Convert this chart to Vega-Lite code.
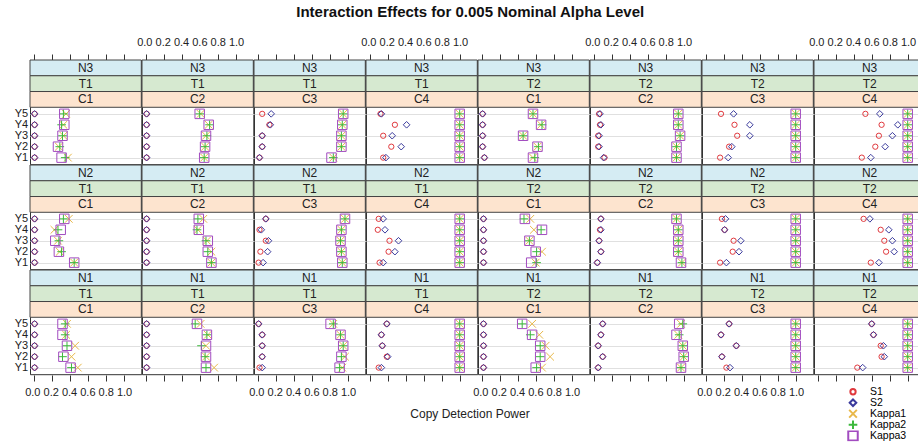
{
  "$schema": "https://vega.github.io/schema/vega-lite/v6.json",
  "padding": {"left": 14, "top": 4, "right": 0, "bottom": 0},
  "title": {"text": "Interaction Effects for 0.005 Nominal Alpha Level", "fontSize": 15, "font": "Liberation Sans", "fontWeight": "bold", "color": "#111", "anchor": "middle", "offset": 17},
  "data": {"values": [
    {"N":"N3","T":"T1","C":"C1","Y":5,"S1":0.01,"S2":0.01,"Kappa1":0.36,"Kappa2":0.33,"Kappa3":0.34},
    {"N":"N3","T":"T1","C":"C1","Y":4,"S1":0.01,"S2":0.01,"Kappa1":0.33,"Kappa2":0.31,"Kappa3":0.34},
    {"N":"N3","T":"T1","C":"C1","Y":3,"S1":0.01,"S2":0.01,"Kappa1":0.33,"Kappa2":0.32,"Kappa3":0.32},
    {"N":"N3","T":"T1","C":"C1","Y":2,"S1":0.01,"S2":0.01,"Kappa1":0.28,"Kappa2":0.29,"Kappa3":0.27},
    {"N":"N3","T":"T1","C":"C1","Y":1,"S1":0.01,"S2":0.01,"Kappa1":0.38,"Kappa2":0.35,"Kappa3":0.31},
    {"N":"N3","T":"T1","C":"C2","Y":5,"S1":0.01,"S2":0.01,"Kappa1":0.61,"Kappa2":0.60,"Kappa3":0.60},
    {"N":"N3","T":"T1","C":"C2","Y":4,"S1":0.01,"S2":0.01,"Kappa1":0.70,"Kappa2":0.71,"Kappa3":0.70},
    {"N":"N3","T":"T1","C":"C2","Y":3,"S1":0.01,"S2":0.01,"Kappa1":0.67,"Kappa2":0.68,"Kappa3":0.67},
    {"N":"N3","T":"T1","C":"C2","Y":2,"S1":0.01,"S2":0.01,"Kappa1":0.66,"Kappa2":0.66,"Kappa3":0.66},
    {"N":"N3","T":"T1","C":"C2","Y":1,"S1":0.01,"S2":0.01,"Kappa1":0.65,"Kappa2":0.65,"Kappa3":0.65},
    {"N":"N3","T":"T1","C":"C3","Y":5,"S1":0.05,"S2":0.15,"Kappa1":0.95,"Kappa2":0.95,"Kappa3":0.95},
    {"N":"N3","T":"T1","C":"C3","Y":4,"S1":0.13,"S2":0.14,"Kappa1":0.94,"Kappa2":0.94,"Kappa3":0.94},
    {"N":"N3","T":"T1","C":"C3","Y":3,"S1":0.05,"S2":0.05,"Kappa1":0.93,"Kappa2":0.93,"Kappa3":0.93},
    {"N":"N3","T":"T1","C":"C3","Y":2,"S1":0.05,"S2":0.05,"Kappa1":0.93,"Kappa2":0.93,"Kappa3":0.93},
    {"N":"N3","T":"T1","C":"C3","Y":1,"S1":0.02,"S2":0.02,"Kappa1":0.84,"Kappa2":0.84,"Kappa3":0.82},
    {"N":"N3","T":"T1","C":"C4","Y":5,"S1":0.12,"S2":0.13,"Kappa1":1,"Kappa2":1,"Kappa3":1},
    {"N":"N3","T":"T1","C":"C4","Y":4,"S1":0.28,"S2":0.41,"Kappa1":1,"Kappa2":1,"Kappa3":1},
    {"N":"N3","T":"T1","C":"C4","Y":3,"S1":0.15,"S2":0.25,"Kappa1":1,"Kappa2":1,"Kappa3":1},
    {"N":"N3","T":"T1","C":"C4","Y":2,"S1":0.24,"S2":0.35,"Kappa1":1,"Kappa2":1,"Kappa3":1},
    {"N":"N3","T":"T1","C":"C4","Y":1,"S1":0.15,"S2":0.18,"Kappa1":1,"Kappa2":1,"Kappa3":1},
    {"N":"N3","T":"T2","C":"C1","Y":5,"S1":0.01,"S2":0.01,"Kappa1":0.57,"Kappa2":0.57,"Kappa3":0.57},
    {"N":"N3","T":"T2","C":"C1","Y":4,"S1":0.01,"S2":0.01,"Kappa1":0.66,"Kappa2":0.67,"Kappa3":0.66},
    {"N":"N3","T":"T2","C":"C1","Y":3,"S1":0.01,"S2":0.01,"Kappa1":0.46,"Kappa2":0.46,"Kappa3":0.46},
    {"N":"N3","T":"T2","C":"C1","Y":2,"S1":0.01,"S2":0.01,"Kappa1":0.62,"Kappa2":0.63,"Kappa3":0.62},
    {"N":"N3","T":"T2","C":"C1","Y":1,"S1":0.03,"S2":0.03,"Kappa1":0.57,"Kappa2":0.59,"Kappa3":0.57},
    {"N":"N3","T":"T2","C":"C2","Y":5,"S1":0.06,"S2":0.07,"Kappa1":0.94,"Kappa2":0.94,"Kappa3":0.94},
    {"N":"N3","T":"T2","C":"C2","Y":4,"S1":0.07,"S2":0.08,"Kappa1":0.94,"Kappa2":0.94,"Kappa3":0.94},
    {"N":"N3","T":"T2","C":"C2","Y":3,"S1":0.05,"S2":0.06,"Kappa1":0.96,"Kappa2":0.96,"Kappa3":0.96},
    {"N":"N3","T":"T2","C":"C2","Y":2,"S1":0.05,"S2":0.06,"Kappa1":0.92,"Kappa2":0.92,"Kappa3":0.92},
    {"N":"N3","T":"T2","C":"C2","Y":1,"S1":0.12,"S2":0.11,"Kappa1":0.92,"Kappa2":0.92,"Kappa3":0.92},
    {"N":"N3","T":"T2","C":"C3","Y":5,"S1":0.17,"S2":0.31,"Kappa1":1,"Kappa2":1,"Kappa3":1},
    {"N":"N3","T":"T2","C":"C3","Y":4,"S1":0.32,"S2":0.49,"Kappa1":1,"Kappa2":1,"Kappa3":1},
    {"N":"N3","T":"T2","C":"C3","Y":3,"S1":0.35,"S2":0.49,"Kappa1":1,"Kappa2":1,"Kappa3":1},
    {"N":"N3","T":"T2","C":"C3","Y":2,"S1":0.26,"S2":0.29,"Kappa1":1,"Kappa2":1,"Kappa3":1},
    {"N":"N3","T":"T2","C":"C3","Y":1,"S1":0.16,"S2":0.25,"Kappa1":1,"Kappa2":1,"Kappa3":1},
    {"N":"N3","T":"T2","C":"C4","Y":5,"S1":0.53,"S2":0.69,"Kappa1":1,"Kappa2":1,"Kappa3":1},
    {"N":"N3","T":"T2","C":"C4","Y":4,"S1":0.71,"S2":0.89,"Kappa1":1,"Kappa2":1,"Kappa3":1},
    {"N":"N3","T":"T2","C":"C4","Y":3,"S1":0.68,"S2":0.83,"Kappa1":1,"Kappa2":1,"Kappa3":1},
    {"N":"N3","T":"T2","C":"C4","Y":2,"S1":0.64,"S2":0.75,"Kappa1":1,"Kappa2":1,"Kappa3":1},
    {"N":"N3","T":"T2","C":"C4","Y":1,"S1":0.49,"S2":0.59,"Kappa1":1,"Kappa2":1,"Kappa3":1},
    {"N":"N2","T":"T1","C":"C1","Y":5,"S1":0.01,"S2":0.01,"Kappa1":0.39,"Kappa2":0.33,"Kappa3":0.34},
    {"N":"N2","T":"T1","C":"C1","Y":4,"S1":0.01,"S2":0.01,"Kappa1":0.23,"Kappa2":0.27,"Kappa3":0.30},
    {"N":"N2","T":"T1","C":"C1","Y":3,"S1":0.01,"S2":0.01,"Kappa1":0.27,"Kappa2":0.28,"Kappa3":0.24},
    {"N":"N2","T":"T1","C":"C1","Y":2,"S1":0.01,"S2":0.01,"Kappa1":0.29,"Kappa2":0.31,"Kappa3":0.28},
    {"N":"N2","T":"T1","C":"C1","Y":1,"S1":0.01,"S2":0.01,"Kappa1":0.45,"Kappa2":0.45,"Kappa3":0.45},
    {"N":"N2","T":"T1","C":"C2","Y":5,"S1":0.01,"S2":0.01,"Kappa1":0.64,"Kappa2":0.58,"Kappa3":0.59},
    {"N":"N2","T":"T1","C":"C2","Y":4,"S1":0.01,"S2":0.01,"Kappa1":0.58,"Kappa2":0.57,"Kappa3":0.59},
    {"N":"N2","T":"T1","C":"C2","Y":3,"S1":0.01,"S2":0.01,"Kappa1":0.68,"Kappa2":0.67,"Kappa3":0.69},
    {"N":"N2","T":"T1","C":"C2","Y":2,"S1":0.01,"S2":0.01,"Kappa1":0.73,"Kappa2":0.69,"Kappa3":0.69},
    {"N":"N2","T":"T1","C":"C2","Y":1,"S1":0.01,"S2":0.01,"Kappa1":0.73,"Kappa2":0.73,"Kappa3":0.73},
    {"N":"N2","T":"T1","C":"C3","Y":5,"S1":0.09,"S2":0.09,"Kappa1":0.97,"Kappa2":0.97,"Kappa3":0.97},
    {"N":"N2","T":"T1","C":"C3","Y":4,"S1":0.02,"S2":0.04,"Kappa1":0.93,"Kappa2":0.93,"Kappa3":0.93},
    {"N":"N2","T":"T1","C":"C3","Y":3,"S1":0.09,"S2":0.12,"Kappa1":0.92,"Kappa2":0.92,"Kappa3":0.92},
    {"N":"N2","T":"T1","C":"C3","Y":2,"S1":0.03,"S2":0.11,"Kappa1":0.93,"Kappa2":0.93,"Kappa3":0.93},
    {"N":"N2","T":"T1","C":"C3","Y":1,"S1":0.01,"S2":0.06,"Kappa1":0.94,"Kappa2":0.94,"Kappa3":0.94},
    {"N":"N2","T":"T1","C":"C4","Y":5,"S1":0.10,"S2":0.15,"Kappa1":1,"Kappa2":1,"Kappa3":1},
    {"N":"N2","T":"T1","C":"C4","Y":4,"S1":0.09,"S2":0.17,"Kappa1":1,"Kappa2":1,"Kappa3":1},
    {"N":"N2","T":"T1","C":"C4","Y":3,"S1":0.22,"S2":0.32,"Kappa1":1,"Kappa2":1,"Kappa3":1},
    {"N":"N2","T":"T1","C":"C4","Y":2,"S1":0.21,"S2":0.28,"Kappa1":1,"Kappa2":1,"Kappa3":1},
    {"N":"N2","T":"T1","C":"C4","Y":1,"S1":0.11,"S2":0.15,"Kappa1":1,"Kappa2":1,"Kappa3":1},
    {"N":"N2","T":"T2","C":"C1","Y":5,"S1":0.02,"S2":0.02,"Kappa1":0.54,"Kappa2":0.47,"Kappa3":0.48},
    {"N":"N2","T":"T2","C":"C1","Y":4,"S1":0.02,"S2":0.02,"Kappa1":0.58,"Kappa2":0.66,"Kappa3":0.67},
    {"N":"N2","T":"T2","C":"C1","Y":3,"S1":0.02,"S2":0.02,"Kappa1":0.53,"Kappa2":0.53,"Kappa3":0.53},
    {"N":"N2","T":"T2","C":"C1","Y":2,"S1":0.02,"S2":0.02,"Kappa1":0.67,"Kappa2":0.61,"Kappa3":0.60},
    {"N":"N2","T":"T2","C":"C1","Y":1,"S1":0.02,"S2":0.02,"Kappa1":0.60,"Kappa2":0.61,"Kappa3":0.55},
    {"N":"N2","T":"T2","C":"C2","Y":5,"S1":0.08,"S2":0.08,"Kappa1":0.92,"Kappa2":0.92,"Kappa3":0.92},
    {"N":"N2","T":"T2","C":"C2","Y":4,"S1":0.07,"S2":0.08,"Kappa1":0.94,"Kappa2":0.94,"Kappa3":0.94},
    {"N":"N2","T":"T2","C":"C2","Y":3,"S1":0.06,"S2":0.06,"Kappa1":0.94,"Kappa2":0.94,"Kappa3":0.94},
    {"N":"N2","T":"T2","C":"C2","Y":2,"S1":0.08,"S2":0.08,"Kappa1":0.94,"Kappa2":0.94,"Kappa3":0.94},
    {"N":"N2","T":"T2","C":"C2","Y":1,"S1":0.04,"S2":0.04,"Kappa1":0.98,"Kappa2":0.98,"Kappa3":0.97},
    {"N":"N2","T":"T2","C":"C3","Y":5,"S1":0.18,"S2":0.22,"Kappa1":1,"Kappa2":1,"Kappa3":1},
    {"N":"N2","T":"T2","C":"C3","Y":4,"S1":0.21,"S2":0.21,"Kappa1":1,"Kappa2":1,"Kappa3":1},
    {"N":"N2","T":"T2","C":"C3","Y":3,"S1":0.31,"S2":0.39,"Kappa1":1,"Kappa2":1,"Kappa3":1},
    {"N":"N2","T":"T2","C":"C3","Y":2,"S1":0.30,"S2":0.37,"Kappa1":1,"Kappa2":1,"Kappa3":1},
    {"N":"N2","T":"T2","C":"C3","Y":1,"S1":0.16,"S2":0.23,"Kappa1":1,"Kappa2":1,"Kappa3":1},
    {"N":"N2","T":"T2","C":"C4","Y":5,"S1":0.51,"S2":0.58,"Kappa1":1,"Kappa2":1,"Kappa3":1},
    {"N":"N2","T":"T2","C":"C4","Y":4,"S1":0.70,"S2":0.79,"Kappa1":1,"Kappa2":1,"Kappa3":1},
    {"N":"N2","T":"T2","C":"C4","Y":3,"S1":0.74,"S2":0.83,"Kappa1":1,"Kappa2":1,"Kappa3":1},
    {"N":"N2","T":"T2","C":"C4","Y":2,"S1":0.76,"S2":0.85,"Kappa1":1,"Kappa2":1,"Kappa3":1},
    {"N":"N2","T":"T2","C":"C4","Y":1,"S1":0.59,"S2":0.68,"Kappa1":1,"Kappa2":1,"Kappa3":1},
    {"N":"N1","T":"T1","C":"C1","Y":5,"S1":0.01,"S2":0.01,"Kappa1":0.37,"Kappa2":0.35,"Kappa3":0.32},
    {"N":"N1","T":"T1","C":"C1","Y":4,"S1":0.01,"S2":0.01,"Kappa1":0.36,"Kappa2":0.35,"Kappa3":0.32},
    {"N":"N1","T":"T1","C":"C1","Y":3,"S1":0.01,"S2":0.01,"Kappa1":0.46,"Kappa2":0.37,"Kappa3":0.37},
    {"N":"N1","T":"T1","C":"C1","Y":2,"S1":0.01,"S2":0.01,"Kappa1":0.42,"Kappa2":0.32,"Kappa3":0.33},
    {"N":"N1","T":"T1","C":"C1","Y":1,"S1":0.01,"S2":0.01,"Kappa1":0.49,"Kappa2":0.42,"Kappa3":0.41},
    {"N":"N1","T":"T1","C":"C2","Y":5,"S1":0.01,"S2":0.01,"Kappa1":0.61,"Kappa2":0.55,"Kappa3":0.57},
    {"N":"N1","T":"T1","C":"C2","Y":4,"S1":0.01,"S2":0.01,"Kappa1":0.69,"Kappa2":0.68,"Kappa3":0.68},
    {"N":"N1","T":"T1","C":"C2","Y":3,"S1":0.01,"S2":0.01,"Kappa1":0.67,"Kappa2":0.62,"Kappa3":0.67},
    {"N":"N1","T":"T1","C":"C2","Y":2,"S1":0.01,"S2":0.01,"Kappa1":0.67,"Kappa2":0.66,"Kappa3":0.67},
    {"N":"N1","T":"T1","C":"C2","Y":1,"S1":0.01,"S2":0.01,"Kappa1":0.76,"Kappa2":0.67,"Kappa3":0.67},
    {"N":"N1","T":"T1","C":"C3","Y":5,"S1":0.01,"S2":0.01,"Kappa1":0.84,"Kappa2":0.84,"Kappa3":0.81},
    {"N":"N1","T":"T1","C":"C3","Y":4,"S1":0.05,"S2":0.05,"Kappa1":0.92,"Kappa2":0.92,"Kappa3":0.92},
    {"N":"N1","T":"T1","C":"C3","Y":3,"S1":0.05,"S2":0.05,"Kappa1":0.95,"Kappa2":0.95,"Kappa3":0.95},
    {"N":"N1","T":"T1","C":"C3","Y":2,"S1":0.05,"S2":0.05,"Kappa1":0.97,"Kappa2":0.93,"Kappa3":0.93},
    {"N":"N1","T":"T1","C":"C3","Y":1,"S1":0.02,"S2":0.05,"Kappa1":0.94,"Kappa2":0.91,"Kappa3":0.91},
    {"N":"N1","T":"T1","C":"C4","Y":5,"S1":0.19,"S2":0.19,"Kappa1":1,"Kappa2":1,"Kappa3":1},
    {"N":"N1","T":"T1","C":"C4","Y":4,"S1":0.13,"S2":0.13,"Kappa1":1,"Kappa2":1,"Kappa3":1},
    {"N":"N1","T":"T1","C":"C4","Y":3,"S1":0.14,"S2":0.14,"Kappa1":1,"Kappa2":1,"Kappa3":1},
    {"N":"N1","T":"T1","C":"C4","Y":2,"S1":0.19,"S2":0.20,"Kappa1":1,"Kappa2":1,"Kappa3":1},
    {"N":"N1","T":"T1","C":"C4","Y":1,"S1":0.10,"S2":0.13,"Kappa1":1,"Kappa2":1,"Kappa3":1},
    {"N":"N1","T":"T2","C":"C1","Y":5,"S1":0.02,"S2":0.02,"Kappa1":0.56,"Kappa2":0.45,"Kappa3":0.45},
    {"N":"N1","T":"T2","C":"C1","Y":4,"S1":0.02,"S2":0.02,"Kappa1":0.64,"Kappa2":0.54,"Kappa3":0.56},
    {"N":"N1","T":"T2","C":"C1","Y":3,"S1":0.02,"S2":0.02,"Kappa1":0.71,"Kappa2":0.65,"Kappa3":0.65},
    {"N":"N1","T":"T2","C":"C1","Y":2,"S1":0.02,"S2":0.02,"Kappa1":0.76,"Kappa2":0.65,"Kappa3":0.65},
    {"N":"N1","T":"T2","C":"C1","Y":1,"S1":0.02,"S2":0.02,"Kappa1":0.67,"Kappa2":0.61,"Kappa3":0.60},
    {"N":"N1","T":"T2","C":"C2","Y":5,"S1":0.10,"S2":0.10,"Kappa1":0.97,"Kappa2":0.99,"Kappa3":0.95},
    {"N":"N1","T":"T2","C":"C2","Y":4,"S1":0.08,"S2":0.08,"Kappa1":0.94,"Kappa2":0.95,"Kappa3":0.92},
    {"N":"N1","T":"T2","C":"C2","Y":3,"S1":0.05,"S2":0.05,"Kappa1":0.99,"Kappa2":0.99,"Kappa3":0.99},
    {"N":"N1","T":"T2","C":"C2","Y":2,"S1":0.10,"S2":0.10,"Kappa1":1,"Kappa2":1,"Kappa3":1},
    {"N":"N1","T":"T2","C":"C2","Y":1,"S1":0.05,"S2":0.05,"Kappa1":0.97,"Kappa2":0.97,"Kappa3":0.97},
    {"N":"N1","T":"T2","C":"C3","Y":5,"S1":0.26,"S2":0.26,"Kappa1":1,"Kappa2":1,"Kappa3":1},
    {"N":"N1","T":"T2","C":"C3","Y":4,"S1":0.17,"S2":0.17,"Kappa1":1,"Kappa2":1,"Kappa3":1},
    {"N":"N1","T":"T2","C":"C3","Y":3,"S1":0.34,"S2":0.34,"Kappa1":1,"Kappa2":1,"Kappa3":1},
    {"N":"N1","T":"T2","C":"C3","Y":2,"S1":0.18,"S2":0.18,"Kappa1":1,"Kappa2":1,"Kappa3":1},
    {"N":"N1","T":"T2","C":"C3","Y":1,"S1":0.23,"S2":0.27,"Kappa1":1,"Kappa2":1,"Kappa3":1},
    {"N":"N1","T":"T2","C":"C4","Y":5,"S1":0.60,"S2":0.60,"Kappa1":1,"Kappa2":1,"Kappa3":1},
    {"N":"N1","T":"T2","C":"C4","Y":4,"S1":0.62,"S2":0.62,"Kappa1":1,"Kappa2":1,"Kappa3":1},
    {"N":"N1","T":"T2","C":"C4","Y":3,"S1":0.70,"S2":0.73,"Kappa1":1,"Kappa2":1,"Kappa3":1},
    {"N":"N1","T":"T2","C":"C4","Y":2,"S1":0.71,"S2":0.74,"Kappa1":1,"Kappa2":1,"Kappa3":1},
    {"N":"N1","T":"T2","C":"C4","Y":1,"S1":0.44,"S2":0.50,"Kappa1":1,"Kappa2":1,"Kappa3":1}
  ]},
  "transform": [
    {"calculate": "datum.T + '-' + datum.C", "as": "TC"},
    {"fold": ["S1", "S2", "Kappa1", "Kappa2", "Kappa3"], "as": ["series", "power"]}
  ],
  "facet": {
    "row": {"field": "N", "type": "nominal", "sort": ["N3", "N2", "N1"], "title": null, "header": {"labels": false}},
    "column": {"field": "TC", "type": "nominal", "sort": ["T1-C1", "T1-C2", "T1-C3", "T1-C4", "T2-C1", "T2-C2", "T2-C3", "T2-C4"], "title": "Copy Detection Power", "header": {"labels": false, "titleOrient": "bottom", "titleFontSize": 12, "titleFontWeight": "normal", "titleColor": "#222", "titleFont": "Liberation Sans", "titlePadding": 17}}
  },
  "spacing": 0,
  "bounds": "flush",
  "spec": {
    "width": 111.3,
    "height": 104.2,
    "layer": [
      {
        "transform": [{"aggregate": [{"op": "count", "as": "n"}], "groupby": ["N", "T", "C"]}],
        "mark": {"type": "rect", "fill": "#d5ecf3", "stroke": "#444", "strokeWidth": 1},
        "encoding": {"x": {"value": 0}, "x2": {"value": "width"}, "y": {"datum": 8.48, "type": "quantitative"}, "y2": {"datum": 9.92}}
      },
      {
        "transform": [{"aggregate": [{"op": "count", "as": "n"}], "groupby": ["N", "T", "C"]}],
        "mark": {"type": "rect", "fill": "#d6e9d0", "stroke": "#444", "strokeWidth": 1},
        "encoding": {"x": {"value": 0}, "x2": {"value": "width"}, "y": {"datum": 7.04, "type": "quantitative"}, "y2": {"datum": 8.48}}
      },
      {
        "transform": [{"aggregate": [{"op": "count", "as": "n"}], "groupby": ["N", "T", "C"]}],
        "mark": {"type": "rect", "fill": "#fde4cf", "stroke": "#444", "strokeWidth": 1},
        "encoding": {"x": {"value": 0}, "x2": {"value": "width"}, "y": {"datum": 5.6, "type": "quantitative"}, "y2": {"datum": 7.04}}
      },
      {
        "transform": [{"aggregate": [{"op": "count", "as": "n"}], "groupby": ["N", "T", "C"]}],
        "mark": {"type": "text", "fontSize": 12, "font": "Liberation Sans", "color": "#222", "baseline": "middle", "align": "center"},
        "encoding": {"x": {"datum": 0.577, "type": "quantitative", "axis": null}, "y": {"datum": 9.2, "type": "quantitative"}, "text": {"field": "N"}}
      },
      {
        "transform": [{"aggregate": [{"op": "count", "as": "n"}], "groupby": ["N", "T", "C"]}],
        "mark": {"type": "text", "fontSize": 12, "font": "Liberation Sans", "color": "#222", "baseline": "middle", "align": "center"},
        "encoding": {"x": {"datum": 0.577, "type": "quantitative", "axis": null}, "y": {"datum": 7.76, "type": "quantitative"}, "text": {"field": "T"}}
      },
      {
        "transform": [{"aggregate": [{"op": "count", "as": "n"}], "groupby": ["N", "T", "C"]}],
        "mark": {"type": "text", "fontSize": 12, "font": "Liberation Sans", "color": "#222", "baseline": "middle", "align": "center"},
        "encoding": {"x": {"datum": 0.577, "type": "quantitative", "axis": null}, "y": {"datum": 6.32, "type": "quantitative"}, "text": {"field": "C"}}
      },
      {
        "transform": [
          {"aggregate": [{"op": "count", "as": "n"}], "groupby": ["N", "T", "C"]},
          {"filter": "datum.N === 'N3' && (datum.C === 'C2' || datum.C === 'C4')"}
        ],
        "mark": {"type": "text", "fontSize": 11, "font": "Liberation Sans", "color": "#222", "baseline": "middle", "align": "center"},
        "encoding": {
          "x": {"datum": 0.5, "type": "quantitative", "axis": {"orient": "top", "values": [0, 0.2, 0.4, 0.6, 0.8, 1.0], "labels": false, "ticks": true, "tickSize": 6, "tickColor": "#333", "domain": false, "grid": false, "title": null}},
          "y": {"datum": 11.47, "type": "quantitative"},
          "text": {"value": "0.0 0.2 0.4 0.6 0.8 1.0"}
        }
      },
      {
        "transform": [
          {"aggregate": [{"op": "count", "as": "n"}], "groupby": ["N", "T", "C"]},
          {"filter": "datum.N === 'N1' && (datum.C === 'C1' || datum.C === 'C3')"}
        ],
        "mark": {"type": "text", "fontSize": 11, "font": "Liberation Sans", "color": "#222", "baseline": "middle", "align": "center"},
        "encoding": {
          "x": {"datum": 0.5, "type": "quantitative", "axis": null},
          "y": {"datum": -1.36, "type": "quantitative"},
          "text": {"value": "0.0 0.2 0.4 0.6 0.8 1.0"}
        }
      },
      {
        "transform": [
          {"filter": "datum.T === 'T1' && datum.C === 'C1' && datum.series === 'S1'"},
          {"calculate": "'Y' + datum.Y", "as": "Ylabel"}
        ],
        "mark": {"type": "text", "fontSize": 11, "font": "Liberation Sans", "color": "#222", "baseline": "middle", "align": "right"},
        "encoding": {
          "x": {"datum": -0.062, "type": "quantitative", "axis": null},
          "y": {"field": "Y", "type": "quantitative"},
          "text": {"field": "Ylabel"}
        }
      },
      {
        "mark": {"type": "point", "filled": false, "strokeWidth": 1, "opacity": 1},
        "encoding": {
          "x": {"field": "power", "type": "quantitative", "scale": {"domain": [-0.0411, 1.1956], "nice": false, "zero": false},
                "axis": {"orient": "bottom", "values": [0, 0.2, 0.4, 0.6, 0.8, 1.0], "labels": false, "ticks": true, "tickSize": 6, "tickColor": "#333", "domain": false, "grid": false, "title": null}},
          "y": {"field": "Y", "type": "quantitative", "scale": {"domain": [0.4, 9.92], "nice": false, "zero": false},
                "axis": {"values": [1, 2, 3, 4, 5], "labels": false, "grid": true, "gridColor": "#e0e0e0", "gridWidth": 1, "ticks": false, "domain": false, "title": null}},
          "color": {"field": "series", "type": "nominal",
                    "scale": {"domain": ["S1", "S2", "Kappa1", "Kappa2", "Kappa3"], "range": ["#e0393e", "#3a3a9c", "#e8b84a", "#3cb93c", "#a24cc0"]},
                    "legend": {"title": null, "orient": "none", "legendX": 817, "legendY": 326.5, "labelFontSize": 10.5, "labelFont": "Liberation Sans", "symbolSize": 28, "symbolStrokeWidth": 2, "rowPadding": 0, "clipHeight": 10.5, "labelOffset": 11,
                               "encode": {"labels": {"update": {"fill": {"scale": "color", "field": "value"}}}}}},
          "shape": {"field": "series", "type": "nominal",
                    "scale": {"domain": ["S1", "S2", "Kappa1", "Kappa2", "Kappa3"], "range": ["circle", "diamond", "M-1,-1L1,1M-1,1L1,-1", "M-1,0L1,0M0,-1L0,1", "square"]}},
          "size": {"field": "series", "type": "nominal", "legend": null,
                   "scale": {"domain": ["S1", "S2", "Kappa1", "Kappa2", "Kappa3"], "range": [28, 90, 42, 56, 46]}}
        }
      }
    ],
    "resolve": {"axis": {"x": "independent"}}
  },
  "config": {
    "font": "Liberation Sans",
    "view": {"stroke": "#333", "strokeWidth": 1},
    "background": "white"
  }
}
